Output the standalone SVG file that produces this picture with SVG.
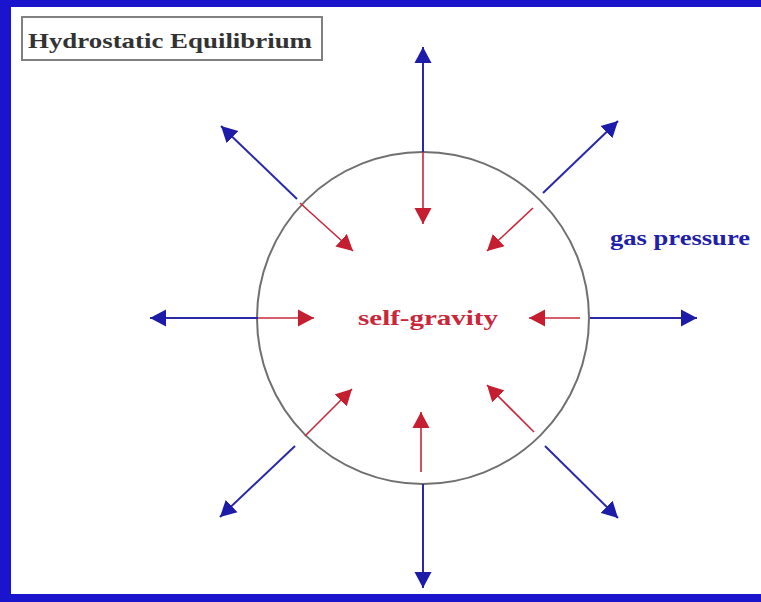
<svg xmlns="http://www.w3.org/2000/svg" width="761" height="602" viewBox="0 0 761 602">
<style>
.blue{stroke:#2a2aa8;stroke-width:2;fill:none}
.red{stroke:#c8283a;stroke-width:1.6;fill:none}
.lbl{font-family:"Liberation Serif","DejaVu Serif",serif;font-weight:bold}
</style>
<defs>
<marker id="hb" markerUnits="userSpaceOnUse" markerWidth="16" markerHeight="18" refX="15" refY="8" orient="auto" viewBox="0 0 15 16">
<path d="M0,0 L15,8 L0,16 z" fill="#1c1ca8"/>
</marker>
<marker id="hr" markerUnits="userSpaceOnUse" markerWidth="16" markerHeight="18" refX="15" refY="8" orient="auto" viewBox="0 0 15 16">
<path d="M0,0 L15,8 L0,16 z" fill="#c41e30"/>
</marker>
</defs>
<rect x="0" y="0" width="761" height="602" fill="#ffffff"/>
<g id="frame">
<rect x="0" y="0" width="761" height="7" fill="#1a14cc"/>
<rect x="0" y="0" width="11" height="602" fill="#1a14cc"/>
<rect x="0" y="594" width="761" height="8" fill="#1a14cc"/>
</g>
<g id="title">
<rect x="22" y="17" width="300" height="43" fill="#ffffff" stroke="#808080" stroke-width="2"/>
<text class="lbl" x="28" y="48" font-size="22" fill="#333333" textLength="284" lengthAdjust="spacingAndGlyphs">Hydrostatic Equilibrium</text>
</g>
<g id="star">
<circle cx="423" cy="318" r="166" fill="none" stroke="#707070" stroke-width="2"/>
</g>
<g id="connectors">
<line class="blue" x1="423" y1="152" x2="423" y2="47" marker-end="url(#hb)"/>
<line class="blue" x1="543" y1="193" x2="618" y2="121" marker-end="url(#hb)"/>
<line class="blue" x1="297" y1="199" x2="221" y2="126" marker-end="url(#hb)"/>
<line class="blue" x1="258" y1="318" x2="150" y2="318" marker-end="url(#hb)"/>
<line class="blue" x1="590" y1="318" x2="697" y2="318" marker-end="url(#hb)"/>
<line class="blue" x1="295" y1="446" x2="220" y2="517" marker-end="url(#hb)"/>
<line class="blue" x1="423" y1="484" x2="423" y2="588" marker-end="url(#hb)"/>
<line class="blue" x1="545" y1="446" x2="618" y2="518" marker-end="url(#hb)"/>
<line class="red" x1="423" y1="152" x2="423" y2="224" marker-end="url(#hr)"/>
<line class="red" x1="533" y1="208" x2="487" y2="251" marker-end="url(#hr)"/>
<line class="red" x1="300" y1="203" x2="353" y2="251" marker-end="url(#hr)"/>
<line class="red" x1="258" y1="318" x2="314" y2="318" marker-end="url(#hr)"/>
<line class="red" x1="580" y1="318" x2="529" y2="318" marker-end="url(#hr)"/>
<line class="red" x1="305" y1="436" x2="352" y2="389" marker-end="url(#hr)"/>
<line class="red" x1="421" y1="472" x2="421" y2="412" marker-end="url(#hr)"/>
<line class="red" x1="534" y1="432" x2="487" y2="385" marker-end="url(#hr)"/>
</g>
<g id="labels">
<text class="lbl" x="610" y="245" font-size="20" fill="#2020a8" textLength="140" lengthAdjust="spacingAndGlyphs">gas pressure</text>
<text class="lbl" x="358" y="325" font-size="21" fill="#c8283a" textLength="140" lengthAdjust="spacingAndGlyphs">self-gravity</text>
</g>
</svg>
